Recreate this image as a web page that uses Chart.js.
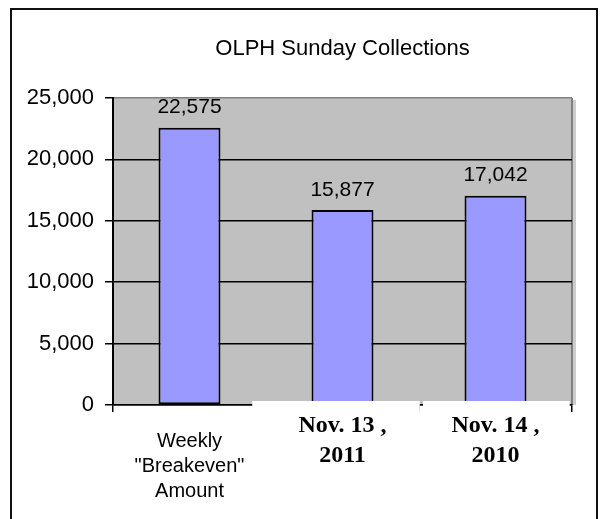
<!DOCTYPE html>
<html>
<head>
<meta charset="utf-8">
<script src="https://cdn.jsdelivr.net/npm/chart.js@4"></script>
<style>
  html, body { margin: 0; padding: 0; background: #fff; }
  #wrap { position: relative; width: 603px; height: 519px; overflow: hidden; }
  #frame { position: absolute; left: 10px; top: 8px; width: 584px; height: 600px;
           border: 2px solid #111; border-bottom: none; pointer-events: none; }
  canvas { position: absolute; left: 0; top: 0; }
</style>
</head>
<body>
<div id="wrap">
  <canvas id="myChart" width="603" height="519"></canvas>
  <div id="frame"></div>
</div>
<script>
// categories (the empty last line on the Nov. labels lifts them like the pasted text boxes)
const categories = [
  ['Weekly', '"Breakeven"', 'Amount'],
  ['Nov. 13 ,', '2011', ''],
  ['Nov. 14 ,', '2010', '']
];
const collections = [22575, 15877, 17042];
const yMin = 0;
const yMax = 25000;
const yStep = 5000;

const sans = '"Liberation Sans", Arial, sans-serif';
const serif = '"Liberation Serif", "Times New Roman", serif';

const plotBackground = {
  id: 'plotBackground',
  beforeDraw(chart) {
    const {ctx, chartArea: a} = chart;
    ctx.save();
    ctx.fillStyle = '#c0c0c0';
    ctx.fillRect(a.left, a.top, a.right - a.left, a.bottom - a.top);
    ctx.fillStyle = '#cdcdcd';
    ctx.fillRect(a.right + 1, a.top + 2, 3, a.bottom - a.top - 2);
    ctx.strokeStyle = '#808080';
    ctx.lineWidth = 2;
    ctx.beginPath();
    ctx.moveTo(a.right, a.top);
    ctx.lineTo(a.right, a.bottom);
    ctx.stroke();
    ctx.restore();
  }
};

// white boxes behind the two bold labels, they hide the axis under them
const labelBoxes = {
  id: 'labelBoxes',
  afterDatasetsDraw(chart) {
    const {ctx} = chart;
    const x = chart.scales.x, y = chart.scales.y;
    const w = x.getPixelForValue(1) - x.getPixelForValue(0);
    const top = y.getPixelForValue(0) - 4;
    ctx.save();
    ctx.fillStyle = '#fff';
    [[1, -0.59, 0.505], [2, -0.474, 0.485]].forEach(([i, l, r]) => {
      const c = x.getPixelForValue(i);
      ctx.fillRect(c + l * w, top, (r - l) * w, 70);
    });
    ctx.restore();
  }
};

const valueLabels = {
  id: 'valueLabels',
  afterDatasetsDraw(chart) {
    const {ctx} = chart;
    ctx.save();
    ctx.font = '21px ' + sans;
    ctx.fillStyle = '#000';
    ctx.textAlign = 'center';
    ctx.textBaseline = 'middle';
    chart.getDatasetMeta(0).data.forEach((bar, i) => {
      ctx.fillText(collections[i].toLocaleString('en-US'), bar.x, bar.y - 20);
    });
    ctx.restore();
  }
};

const ctx = document.getElementById('myChart');

new Chart(ctx, {
  type: 'bar',
  data: {
    labels: categories,
    datasets: [{
      data: collections,
      backgroundColor: '#9999ff',
      borderColor: '#000',
      borderWidth: 2,
      borderSkipped: false,
      barPercentage: 0.405,
      categoryPercentage: 1
    }]
  },
  options: {
    responsive: false,
    animation: false,
    layout: { padding: { left: 0, right: 31, top: 0, bottom: 0 } },
    plugins: {
      legend: { display: false },
      tooltip: { enabled: false },
      title: {
        display: true,
        fullSize: false,
        text: 'OLPH Sunday Collections',
        color: '#000',
        font: { family: sans, size: 22, weight: 'normal', lineHeight: 1.2 },
        padding: { top: 36, bottom: 35.5 }
      }
    },
    scales: {
      x: {
        afterFit(scale) { scale.height = 114; },
        grid: { display: true, drawOnChartArea: false, drawTicks: true, tickLength: 7, color: '#000', lineWidth: 1.5 },
        border: { display: true, color: '#000', width: 1.5 },
        ticks: {
          z: 1,
          autoSkip: false,
          maxRotation: 0,
          minRotation: 0,
          crossAlign: 'far',
          padding: 14,
          color: '#000',
          font: (c) => c.index === 0
            ? { family: sans, size: 20, weight: 'normal', lineHeight: '25px' }
            : { family: serif, size: 24, weight: 'bold', lineHeight: '30px' }
        }
      },
      y: {
        min: yMin,
        max: yMax,
        afterFit(scale) { scale.width = 113; },
        grid: {
          color: (c) => c.tick && c.tick.value === yMax ? '#808080' : '#000',
          lineWidth: 1.5,
          drawTicks: true,
          tickLength: 8,
          tickColor: '#000'
        },
        border: { display: true, color: '#000', width: 2 },
        ticks: {
          stepSize: yStep,
          padding: 11,
          color: '#000',
          font: { family: sans, size: 22 },
          callback: (v) => v.toLocaleString('en-US')
        }
      }
    }
  },
  plugins: [plotBackground, labelBoxes, valueLabels]
});
</script>
</body>
</html>
